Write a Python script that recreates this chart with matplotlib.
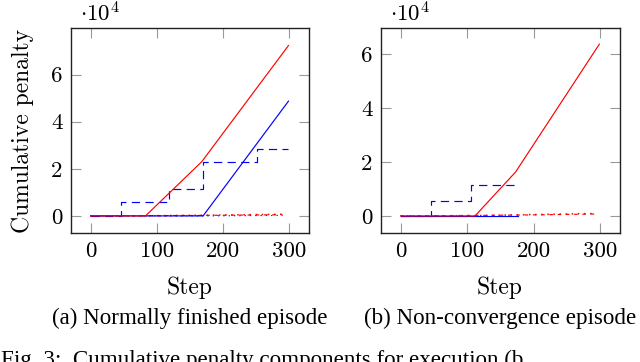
import matplotlib
matplotlib.use("Agg")
import matplotlib.pyplot as plt
import numpy as np

plt.rcParams['mathtext.fontset'] = 'cm'
plt.rcParams['font.family'] = ['cmr10', 'DejaVu Serif']

# (a) Normally finished episode  (values in 1e4 units)
a_red_x = [0, 83, 168, 299]
a_red_y = [0, 0, 2.30, 7.23]
a_blue_x = [0, 170, 299]
a_blue_y = [0, 0, 4.87]
a_step_x = [0, 46, 118, 170, 251, 299]
a_step_y = [0, 0.58, 1.14, 2.28, 2.85, 2.85]
a_dot_red_x = [0, 100, 170, 290]
a_dot_red_y = [0, 0.01, 0.03, 0.07]
a_dash_red_x = [0, 170, 290]
a_dash_red_y = [0, 0.02, 0.05]
a_dot_blue_x = [0, 170, 290]
a_dot_blue_y = [0, 0.0, 0.02]

# (b) Non-convergence episode
b_red_x = [0, 112, 173, 299]
b_red_y = [0, 0, 1.63, 6.37]
b_blue_x = [0, 177]
b_blue_y = [0, 0]
b_step_x = [0, 45, 106, 175]
b_step_y = [0, 0.57, 1.15, 1.15]
b_dot_red_x = [0, 110, 175, 292]
b_dot_red_y = [0, 0.01, 0.04, 0.09]
b_dash_red_x = [0, 175, 292]
b_dash_red_y = [0, 0.03, 0.07]

xticks = [0, 100, 200, 300]
yticks = [0, 2, 4, 6]

fig = plt.figure(figsize=(6.4, 3.62), dpi=100)
ax1 = fig.add_axes([0.1105, 0.3564, 0.3723, 0.5663])
ax2 = fig.add_axes([0.5948, 0.3564, 0.3739, 0.5663])

lw = 0.85


def draw(ax, red, blue, step, dot_red, dash_red, dot_blue=None):
    if dot_blue is not None:
        ax.plot(*dot_blue, color='blue', lw=lw, dashes=(1, 3.5))
    ax.plot(*dash_red, color='red', lw=lw, dashes=(3, 4))
    ax.plot(*dot_red, color='red', lw=1.1, dashes=(1, 3))
    ax.plot(*step, color='blue', lw=lw, dashes=(7, 4.5), drawstyle='steps-post')
    ax.plot(*blue, color='blue', lw=lw)
    ax.plot(*red, color='red', lw=lw)


draw(ax1, (a_red_x, a_red_y), (a_blue_x, a_blue_y), (a_step_x, a_step_y),
     (a_dot_red_x, a_dot_red_y), (a_dash_red_x, a_dash_red_y),
     (a_dot_blue_x, a_dot_blue_y))
draw(ax2, (b_red_x, b_red_y), (b_blue_x, b_blue_y), (b_step_x, b_step_y),
     (b_dot_red_x, b_dot_red_y), (b_dash_red_x, b_dash_red_y))

ax1.set_ylim(-0.725, 7.975)
ax2.set_ylim(-0.633, 6.97)

for ax in (ax1, ax2):
    ax.set_xlim(-30, 330)
    ax.set_xticks(xticks)
    ax.set_yticks(yticks)
    ax.set_xticklabels([str(t) for t in xticks])
    ax.set_yticklabels([str(t) for t in yticks])
    ax.tick_params(direction='in', length=7, width=0.8, color='#999999',
                   top=True, right=True, labelsize=16.5, pad=6)
    for s in ax.spines.values():
        s.set_linewidth(1.0)
        s.set_color('#222222')
    ax.text(0.04, 1.01, r'$\cdot 10^4$', transform=ax.transAxes,
            fontsize=16.5, ha='left', va='bottom')

ax1.set_ylabel('Cumulative penalty', fontsize=17, labelpad=12)

fig.text(190 / 640, 1 - 288 / 362, 'Step', fontsize=17, ha='center', va='center')
fig.text(500 / 640, 1 - 288 / 362, 'Step', fontsize=17, ha='center', va='center')

fig.text(190 / 640, 1 - 318 / 362, '(a) Normally finished episode',
         family='Liberation Serif', fontsize=16.6, ha='center', va='center')
fig.text(500 / 640, 1 - 318 / 362, '(b) Non-convergence episode',
         family='Liberation Serif', fontsize=16.6, ha='center', va='center')
fig.text(0.002, 1 - 366 / 362, 'Fig. 3:  Cumulative penalty components for execution (b',
         family='Liberation Serif', fontsize=16.6, ha='left', va='baseline')

fig.savefig('out.png', dpi=100)
